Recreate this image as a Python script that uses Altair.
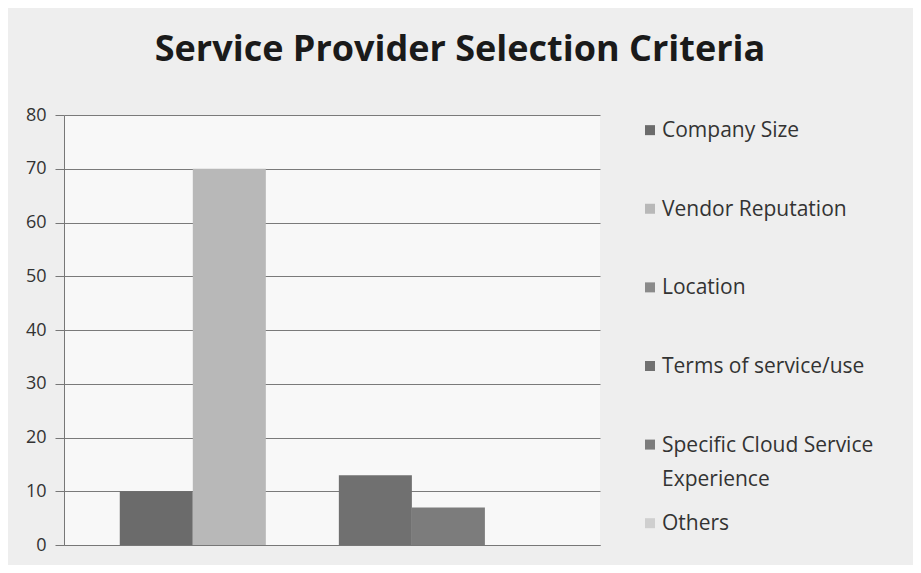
import altair as alt
import pandas as pd

categories = ["Company Size", "Vendor Reputation", "Location", "Terms of service/use",
              "Specific Cloud  Service Experience", "Others"]
legend_labels = ["Company Size", "Vendor Reputation", "Location", "Terms of service/use",
                 "Specific Cloud  Service\nExperience", "Others"]
values = [10, 70, 0, 13, 7, 0]
colors = ["#6b6b6b", "#b8b8b8", "#8a8a8a", "#707070", "#7c7c7c", "#cfcfcf"]
y_ticks = [0, 10, 20, 30, 40, 50, 60, 70, 80]

df = pd.DataFrame({"criterion": categories, "count": values, "label": legend_labels})

FONT = "Open Sans"

color_enc = alt.Color("criterion:N", sort=categories,
                      scale=alt.Scale(domain=categories, range=colors), legend=None)

bars = alt.Chart(df).mark_bar().encode(
    x=alt.X("criterion:N", sort=categories,
            scale=alt.Scale(paddingInner=0, paddingOuter=0.67, align=0.57),
            axis=alt.Axis(title=None, labels=False, ticks=False, domain=True,
                          domainColor="#777777", grid=False)),
    y=alt.Y("count:Q", scale=alt.Scale(domain=[0, 80], nice=False),
            axis=alt.Axis(title=None, values=y_ticks, grid=True, gridColor="#7a7a7a",
                          gridWidth=1.2, domainColor="#777777", tickColor="#777777",
                          tickSize=9, labelPadding=9, labelFontSize=18,
                          labelColor="#333333", labelFont=FONT)),
    color=color_enc,
)

leg_y = alt.Y("criterion:N", sort=categories,
              scale=alt.Scale(type="point", padding=0.235, align=0.41), axis=None)

leg_sym = alt.Chart(df).mark_square(size=100, opacity=1).encode(
    x=alt.value(586), y=leg_y, color=color_enc,
)

leg_txt = alt.Chart(df).mark_text(align="left", baseline="alphabetic", dy=7,
                                  lineBreak="\n", lineHeight=34, fontSize=21,
                                  font=FONT, color="#333333").encode(
    x=alt.value(598), y=leg_y, text="label:N",
)

chart = alt.layer(bars, leg_sym, leg_txt).resolve_scale(y="independent").properties(
    width=536, height=430,
    background="#eeeeee",
    padding={"left": 56, "top": 107, "right": 313, "bottom": 20},
    autosize=alt.AutoSizeParams(type="none"),
    title=alt.TitleParams("Service Provider Selection Criteria", fontSize=36,
                          font=FONT, fontWeight="bold", color="#1a1a1a",
                          anchor="middle", dx=128, offset=37),
).configure_view(fill="#f8f8f8", stroke=None)

chart.save("out.html", embed_options={"renderer": "svg", "actions": False})
